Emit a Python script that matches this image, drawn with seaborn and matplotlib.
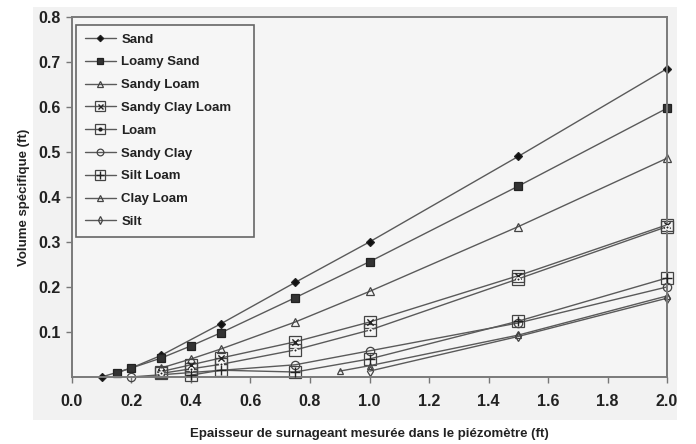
import numpy as np
import pandas as pd
import matplotlib
matplotlib.use("Agg")
import matplotlib.pyplot as plt
from matplotlib.lines import Line2D
from matplotlib.patches import Rectangle
import seaborn as sns

# series (x = épaisseur, y = volume spécifique)
sand_x = [0.1, 0.2, 0.3, 0.5, 0.75, 1.0, 1.5, 2.0]
sand_y = [0.0, 0.02, 0.048, 0.118, 0.21, 0.30, 0.49, 0.685]

loamy_sand_x = [0.15, 0.2, 0.3, 0.4, 0.5, 0.75, 1.0, 1.5, 2.0]
loamy_sand_y = [0.009, 0.02, 0.042, 0.069, 0.098, 0.176, 0.256, 0.424, 0.597]

sandy_loam_x = [0.3, 0.4, 0.5, 0.75, 1.0, 1.5, 2.0]
sandy_loam_y = [0.02, 0.04, 0.062, 0.122, 0.19, 0.334, 0.486]

sandy_clay_loam_x = [0.3, 0.4, 0.5, 0.75, 1.0, 1.5, 2.0]
sandy_clay_loam_y = [0.012, 0.027, 0.042, 0.078, 0.122, 0.225, 0.338]

loam_x = [0.3, 0.4, 0.5, 0.75, 1.0, 1.5, 2.0]
loam_y = [0.008, 0.018, 0.028, 0.06, 0.104, 0.218, 0.334]

sandy_clay_x = [0.2, 0.75, 1.0, 1.5, 2.0]
sandy_clay_y = [0.0, 0.027, 0.058, 0.12, 0.2]

silt_loam_x = [0.4, 0.5, 0.75, 1.0, 1.5, 2.0]
silt_loam_y = [0.004, 0.015, 0.011, 0.04, 0.124, 0.22]

clay_loam_x = [0.9, 1.0, 1.5, 2.0]
clay_loam_y = [0.013, 0.025, 0.093, 0.18]

silt_x = [1.0, 1.5, 2.0]
silt_y = [0.013, 0.09, 0.175]

labels = ["Sand", "Loamy Sand", "Sandy Loam", "Sandy Clay Loam", "Loam",
          "Sandy Clay", "Silt Loam", "Clay Loam", "Silt"]
xs = [sand_x, loamy_sand_x, sandy_loam_x, sandy_clay_loam_x, loam_x,
      sandy_clay_x, silt_loam_x, clay_loam_x, silt_x]
ys = [sand_y, loamy_sand_y, sandy_loam_y, sandy_clay_loam_y, loam_y,
      sandy_clay_y, silt_loam_y, clay_loam_y, silt_y]

x_ticks = [0.0, 0.2, 0.4, 0.6, 0.8, 1.0, 1.2, 1.4, 1.6, 1.8, 2.0]
y_ticks = [0.1, 0.2, 0.3, 0.4, 0.5, 0.6, 0.7, 0.8]

# (marker, size, face, overlay marker, overlay size)
line_col = "#5a5a5a"
styles = {
    "Sand": ("D", 4, "#111111", None, 0),
    "Loamy Sand": ("s", 6, "#333333", None, 0),
    "Sandy Loam": ("^", 6, "none", None, 0),
    "Sandy Clay Loam": ("s", 9, "none", "x", 4.5),
    "Loam": ("s", 9, "none", ".", 5),
    "Sandy Clay": ("o", 6, "none", None, 0),
    "Silt Loam": ("s", 9, "none", "+", 7),
    "Clay Loam": ("^", 5, "none", None, 0),
    "Silt": ("d", 5, "none", None, 0),
}

rows = []
for lab, x, y in zip(labels, xs, ys):
    for a, b in zip(x, y):
        rows.append({"soil": lab, "x": a, "y": b})
df = pd.DataFrame(rows)

sns.set_style("ticks")
plt.rcParams["font.family"] = ["Liberation Sans", "DejaVu Sans"]
plt.rcParams["font.weight"] = "bold"

fig = plt.figure(figsize=(6.96, 4.44), dpi=100, facecolor="white")
# light grey scanned panel behind the chart
fig.patches.append(Rectangle((33 / 696, 1 - 420 / 444), 644 / 696, 413 / 444,
                             transform=fig.transFigure, facecolor="#f2f2f2",
                             edgecolor="none", zorder=-10))
ax = fig.add_axes([0.1034, 0.151, 0.855, 0.811])
ax.set_facecolor("#f5f5f5")

handles = []
for lab in labels:
    m, ms, fc, om, oms = styles[lab]
    sub = df[df["soil"] == lab]
    mec = "#222222" if fc != "none" else "#444444"
    sns.lineplot(data=sub, x="x", y="y", ax=ax, color=line_col, lw=1.0,
                 marker=m, markersize=ms, markerfacecolor=fc,
                 markeredgecolor=mec, markeredgewidth=0.9, legend=False,
                 sort=False, clip_on=False)
    h = Line2D([], [], color=line_col, lw=1.0, marker=m, markersize=ms * 0.8,
               markerfacecolor=fc, markeredgecolor=mec, markeredgewidth=0.9)
    if om:
        sns.scatterplot(data=sub, x="x", y="y", ax=ax, color="#222222",
                        marker=om, s=oms ** 2, linewidth=1.0, legend=False,
                        clip_on=False, zorder=5)
        h2 = Line2D([], [], color="#222222", linestyle="", marker=om,
                    markersize=oms * 0.8, markeredgewidth=1.0)
        h = (h, h2)
    handles.append(h)

ax.set_xlim(0, 2.0)
ax.set_ylim(0, 0.8)
ax.set_xticks(x_ticks)
ax.set_xticklabels([f"{t:.1f}" for t in x_ticks])
ax.set_yticks(y_ticks)
ax.set_yticklabels([f"{t:.1f}" for t in y_ticks])
ax.tick_params(axis="both", labelsize=11.5, colors="#777777", labelcolor="#222222",
               length=4, width=1)
ax.tick_params(axis="x", pad=8)
ax.tick_params(axis="y", pad=4)

for s in ax.spines.values():
    s.set_visible(True)
    s.set_color("#7a7a7a")
    s.set_linewidth(1.4)

ax.set_xlabel("Epaisseur de surnageant mesurée dans le piézomètre (ft)",
              fontsize=9.5, fontweight="bold", labelpad=14, color="#222222")
ax.set_ylabel("Volume spécifique (ft)", fontsize=9.5, fontweight="bold",
              labelpad=6, color="#222222")

leg = ax.legend(handles, labels, loc="upper left",
                bbox_to_anchor=(0.0067, 0.0, 0.30, 0.978), mode="expand",
                fontsize=9.5, frameon=True, fancybox=False, handlelength=2.4,
                labelspacing=0.8, borderpad=0.65, handletextpad=0.4,
                borderaxespad=0.0)
leg.get_frame().set_edgecolor("#666666")
leg.get_frame().set_linewidth(1.2)
leg.get_frame().set_facecolor("#f6f6f6")
leg.get_frame().set_alpha(1)
for t in leg.get_texts():
    t.set_fontweight("bold")
    t.set_color("#222222")

fig.savefig("out.png", dpi=100, facecolor=fig.get_facecolor())
